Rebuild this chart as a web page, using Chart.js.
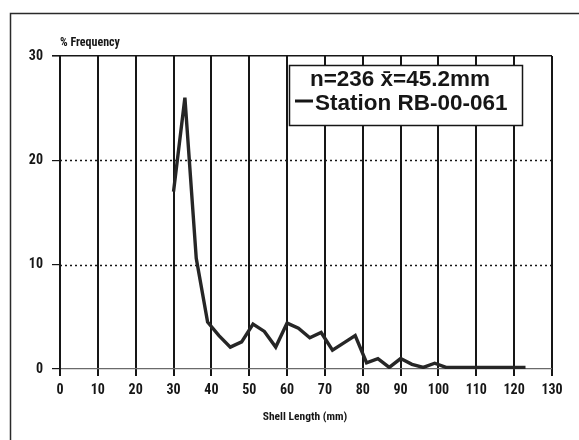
<!DOCTYPE html>
<html>
<head>
<meta charset="utf-8">
<script src="https://cdn.jsdelivr.net/npm/chart.js@4/dist/chart.umd.min.js"></script>
<style>
  html,body{margin:0;padding:0;background:#fff;}
  #wrap{width:579px;height:440px;position:relative;}
</style>
</head>
<body>
<div id="wrap"><canvas id="ch" width="579" height="440"></canvas></div>
<script>
/* ---- data ---- */
const shellLength = [30,33,36,39,42,45,48,51,54,57,60,63,66,69,72,75,78,81,84,87,90,93,96,99,102,105,108,111,114,117,120,123];
const pctFreq     = [17,26,10.6,4.5,3.2,2.1,2.6,4.3,3.6,2.1,4.4,3.9,3.0,3.5,1.8,2.5,3.2,0.6,1.0,0.15,1.0,0.45,0.15,0.55,0.15,0.15,0.15,0.15,0.15,0.15,0.15,0.15];
const xTicks = [0,130,10];           // min, max, step
const yTicks = [0,30,10];
const dottedAt = [10,20];
const legendLines = ['n=236 x\u0304=45.2mm', 'Station RB-00-061'];
const yTitle = '% Frequency';
const xTitle = 'Shell Length (mm)';

const NARROW = '"Roboto Condensed","DejaVu Sans Condensed",sans-serif';
const INK = '#161616';

/* ---- frame, dotted lines, titles, legend box ---- */
const deco = {
  id:'deco',
  beforeDatasetsDraw(c){
    const g = c.ctx, a = c.chartArea, y = c.scales.y;
    g.save();
    g.strokeStyle = INK; g.lineWidth = 1.4; g.setLineDash([2,3]);
    dottedAt.forEach(v => {
      const p = Math.round(y.getPixelForValue(v)) + 0.5;
      g.beginPath(); g.moveTo(a.left, p); g.lineTo(a.right, p); g.stroke();
    });
    g.restore();
  },
  afterDraw(c){
    const g = c.ctx, a = c.chartArea;
    g.save();
    // outer frame (runs off the photo right and bottom)
    g.strokeStyle = '#2a2a2a'; g.lineWidth = 1.5;
    g.beginPath(); g.moveTo(10.5, 440); g.lineTo(10.5, 13.5); g.lineTo(579, 13.5); g.stroke();
    // axis titles
    g.fillStyle = INK; g.textBaseline = 'middle';
    g.font = 'bold 12px ' + NARROW; g.textAlign = 'left';
    g.fillText(yTitle, a.left, 43);
    g.font = 'bold 11.5px ' + NARROW; g.textAlign = 'center';
    g.fillText(xTitle, 305, 417);
    // legend box
    const bx = 289.5, by = 65.5, bw = 233, bh = 60;
    g.fillStyle = '#fff'; g.fillRect(bx, by, bw, bh);
    g.strokeStyle = INK; g.lineWidth = 1.5; g.strokeRect(bx, by, bw, bh);
    g.fillStyle = INK; g.font = 'bold 22.5px "Liberation Sans",Arial,sans-serif';
    g.textAlign = 'center';
    g.fillText(legendLines[0], 400, 80);
    g.textAlign = 'left';
    g.fillText(legendLines[1], 315, 104);
    g.lineWidth = 3; g.beginPath(); g.moveTo(295, 101); g.lineTo(313, 101); g.stroke();
    g.restore();
  }
};

new Chart(document.getElementById('ch'), {
  type:'line',
  data:{datasets:[{
    data: shellLength.map((x,i) => ({x, y:pctFreq[i]})),
    borderColor:'#262626', borderWidth:3.4, pointRadius:0, tension:0, fill:false
  }]},
  options:{
    responsive:false, animation:false,
    layout:{padding:{left:0, top:56, right:27, bottom:0}},
    plugins:{legend:{display:false}, tooltip:{enabled:false}},
    scales:{
      x:{type:'linear', min:xTicks[0], max:xTicks[1],
        afterFit: s => { s.height = 71; },
        ticks:{stepSize:xTicks[2], padding:6, color:INK, font:{family:NARROW, weight:'bold', size:14}},
        grid:{color:INK, lineWidth:2, tickLength:7, tickColor:INK},
        border:{display:false}},
      y:{min:yTicks[0], max:yTicks[1],
        afterFit: s => { s.width = 60; },
        ticks:{stepSize:yTicks[2], padding:9, color:INK, font:{family:NARROW, weight:'bold', size:14}},
        grid:{tickLength:8, tickColor:INK,
          color: ctx => ctx.tick && ctx.tick.value === 30 ? INK : (ctx.tick && ctx.tick.value === 0 ? '#6a6a6a' : 'rgba(0,0,0,0)'),
          lineWidth: ctx => ctx.tick && ctx.tick.value === 30 ? 1.6 : 1.2},
        border:{display:true, color:INK, width:2}}
    }
  },
  plugins:[deco]
});
</script>
</body>
</html>
